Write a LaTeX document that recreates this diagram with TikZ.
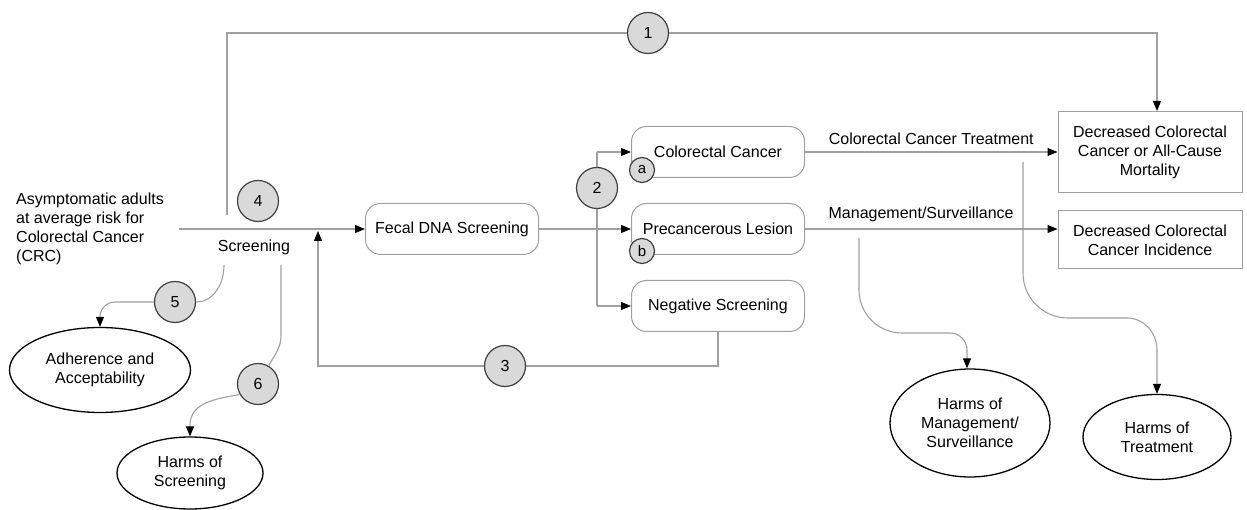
\documentclass[tikz,border=0pt]{standalone}
\usepackage{fontspec}
\setmainfont{Liberation Sans}
\usetikzlibrary{arrows.meta,shapes.geometric}
\definecolor{lg}{HTML}{A0A0A0}
\definecolor{cg}{HTML}{D9D9D9}
\begin{document}
\begin{tikzpicture}[x=1pt,y=-1pt,
  every node/.style={font=\fontsize{16}{19}\selectfont, align=center},
  ln/.style={draw=lg, line width=1.1pt},
  arr/.style={ln, -{Triangle[length=10pt,width=8pt,color=black]}},
  rbox/.style={draw=lg, line width=1pt, rounded corners=15pt, minimum width=173pt, minimum height=51pt, inner sep=2pt},
  obox/.style={draw=lg, line width=1pt, minimum width=184pt, inner sep=2pt},
  kq/.style={circle, draw=black!75, fill=cg, line width=1.2pt, minimum size=41pt, inner sep=0pt},
  sq/.style={circle, draw=black!75, fill=cg, line width=1.2pt, minimum size=25pt, inner sep=0pt, font=\fontsize{15}{18}\selectfont},
  oval/.style={ellipse, draw=black, line width=1.3pt, inner sep=0pt}]
\useasboundingbox (0,0) rectangle (1247,510);

% nodes
\node[anchor=west, align=left, inner sep=4pt] (pop) at (12,229) {Asymptomatic adults\\at average risk for\\Colorectal Cancer\\(CRC)};
\node (scr) at (254,247) {Screening};
\node[rbox] (fecal) at (452,229) {Fecal DNA Screening};
\node[rbox] (cc) at (718,152) {Colorectal Cancer};
\node[rbox] (pl) at (718,229) {Precancerous Lesion};
\node[rbox] (neg) at (718,306) {Negative Screening};
\node[obox, minimum height=81pt] (mort) at (1150,152) {Decreased Colorectal\\Cancer or All-Cause\\Mortality};
\node[obox, minimum height=58pt] (inc) at (1150,240) {Decreased Colorectal\\Cancer Incidence};
\node[oval, minimum width=181pt, minimum height=85pt] (adh) at (100,370) {Adherence and\\Acceptability};
\node[oval, minimum width=146pt, minimum height=72pt] (hs) at (190,473) {Harms of\\Screening};
\node[oval, minimum width=160pt, minimum height=108pt] (hm) at (970,423) {Harms of\\Management/\\Surveillance};
\node[oval, minimum width=148pt, minimum height=85pt] (ht) at (1157,437) {Harms of\\Treatment};

\coordinate (start) at (179,229);
\coordinate (kqstart) at (227,215);
\coordinate (fb) at (318,231);
\coordinate (br) at (597,229);
\coordinate (trstart) at (1023,162);
\coordinate (mgstart) at (859,238);

% main line
\draw[arr] (start) -- (fecal.west);
% KQ1
\draw[arr] (kqstart) -- (227,33) -- (1157,33) -- (mort.north -| 1157,0);
\node[kq] (k1) at (648,33) {1};
\node[kq] (k4) at (258,201) {4};

% branches
\draw[arr] (fecal.east) -- (pl.west);
\draw[ln] (cc.west -| br) -- (neg.west -| br);
\draw[arr] (cc.west -| br) -- (cc.west);
\draw[arr] (neg.west -| br) -- (neg.west);
\node[kq] (k2) at (597,188) {2};
\node[sq] (ka) at (642,170) {a};
\node[sq] (kb) at (642,251) {b};

% feedback
\draw[arr] (neg.south) -- (718,366) -- (318,366) -- (fb);
\node[kq] (k3) at (505,366) {3};

% outcomes
\draw[arr] (cc.east) -- node[above=3pt] {Colorectal Cancer Treatment} (mort.west);
\draw[arr] (pl.east) -- node[above=3pt, pos=0.46] {Management/Surveillance} (pl.east -| inc.west);

% harms of treatment / management
\draw[arr] (trstart) -- (1023,273) to[out=270,in=180] (1068,318) -- (1127,318) to[out=0,in=90] (1157,350) -- (ht.north);
\draw[arr] (mgstart) -- (859,290) to[out=270,in=180] (902,333) -- (950,333) to[out=0,in=90] (967,350) -- (hm.north -| 967,0);

% KQ5, KQ6
\node[kq] (k5) at (175,302) {5};
\node[kq] (k6) at (258,384) {6};
\draw[ln] (224,265) to[out=270,in=0] (k5.east);
\draw[arr] (k5.west) -- (115,302) to[out=180,in=90] (100,317) -- (adh.north);
\draw[ln] (281,265) -- (281,335) to[out=270,in=60] (k6.60);
\draw[arr] (k6.210) to[out=190,in=90] (190,425) -- (hs.north);
\end{tikzpicture}
\end{document}
